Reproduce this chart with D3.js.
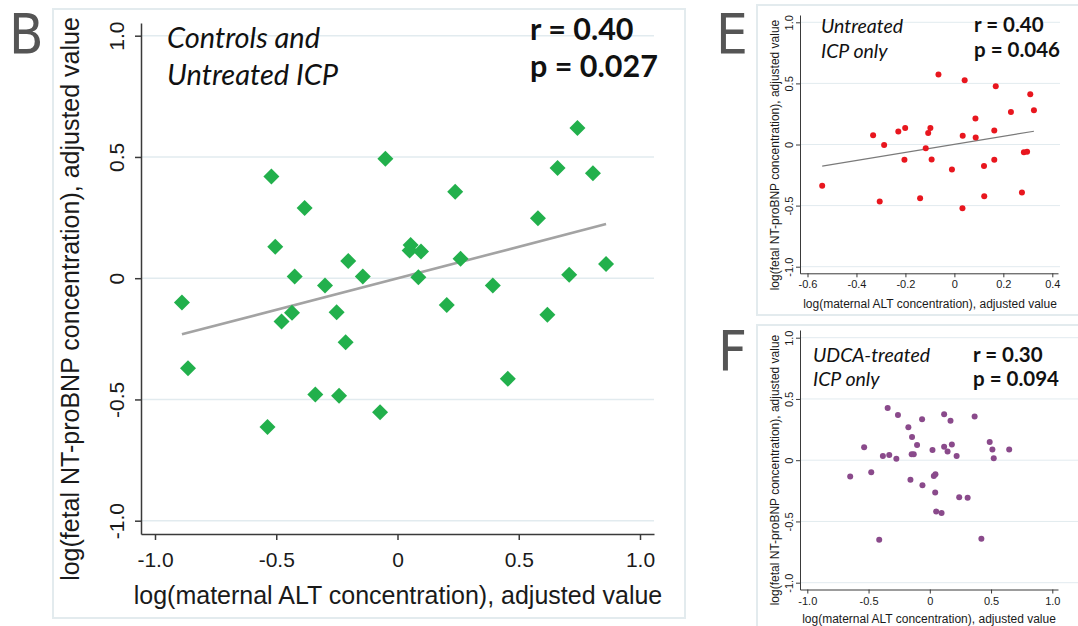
<!DOCTYPE html>
<html>
<head>
<meta charset="utf-8">
<script src="https://cdn.jsdelivr.net/npm/d3@7/dist/d3.min.js"></script>
<style>
  html, body { margin: 0; padding: 0; background: #ffffff; }
  svg { display: block; }
</style>
</head>
<body>
<svg id="fig" width="1078" height="626"></svg>
<script>
// ---- Panel B: controls and untreated ICP (log maternal ALT vs log fetal NT-proBNP)
const bAlt = [-0.889, -0.520, -0.383, -0.504, -0.424, -0.299, -0.203, -0.143, -0.050, 0.054,
               0.050,  0.097,  0.086,  0.238,  0.260,  0.393,  0.579,  0.660,  0.742, 0.806,
               0.708,  0.860,  0.203, -0.435, -0.478, -0.251, -0.214,  0.618, -0.864, 0.455,
              -0.339, -0.241, -0.072, -0.536];
const bBnp = [-0.100,  0.419,  0.289,  0.130,  0.007, -0.030,  0.071,  0.007,  0.493, 0.137,
               0.114,  0.110,  0.004,  0.357,  0.080, -0.030,  0.247,  0.454,  0.619, 0.433,
               0.014,  0.059, -0.111, -0.142, -0.179, -0.140, -0.264, -0.151, -0.371, -0.415,
              -0.480, -0.485, -0.553, -0.614];

// ---- Panel E: untreated ICP only
const eAlt = [-0.540, -0.332, -0.287, -0.305, -0.229, -0.201, -0.204, -0.140, -0.117, -0.107,
              -0.098, -0.093, -0.065, -0.010,  0.033,  0.034,  0.042,  0.086,  0.087,  0.121,
               0.122,  0.163,  0.163,  0.169,  0.231,  0.276,  0.284,  0.297,  0.310,  0.325];
const eBnp = [-0.338,  0.076, -0.005, -0.466,  0.106,  0.136, -0.125, -0.439, -0.030,  0.095,
               0.136, -0.123,  0.573, -0.205, -0.521,  0.071,  0.526,  0.213,  0.057, -0.175,
              -0.423,  0.115, -0.125,  0.477,  0.265, -0.393, -0.063, -0.060,  0.412,  0.281];

// ---- Panel F: UDCA-treated ICP only
const fAlt = [-0.650, -0.536, -0.478, -0.413, -0.383, -0.344, -0.331, -0.273, -0.260, -0.175,
              -0.158, -0.145, -0.148, -0.131, -0.104, -0.063, -0.060,  0.022,  0.033,  0.046,
               0.044,  0.052,  0.096,  0.117,  0.117,  0.145,  0.169,  0.180,  0.219,  0.240,
               0.309,  0.366,  0.421,  0.489,  0.511,  0.522,  0.648];
const fBnp = [-0.133,  0.106, -0.098, -0.649,  0.035,  0.427,  0.043,  0.011,  0.370,  0.269,
              -0.160,  0.190,  0.049,  0.049,  0.125,  0.334, -0.204,  0.084, -0.128, -0.114,
              -0.264, -0.418, -0.432,  0.375,  0.109,  0.071,  0.323,  0.128,  0.035, -0.302,
              -0.307,  0.356, -0.641,  0.149,  0.087,  0.016,  0.087];

// ---- Tick values
const bXTicks = [-1.0, -0.5, 0, 0.5, 1.0];
const bYTicks = [-1.0, -0.5, 0, 0.5, 1.0];
const eXTicks = [-0.6, -0.4, -0.2, 0, 0.2, 0.4];
const eYTicks = [-1.0, -0.5, 0, 0.5, 1.0];
const fXTicks = [-1.0, -0.5, 0, 0.5, 1.0];
const fYTicks = [-1.0, -0.5, 0, 0.5, 1.0];

// ---- Annotations
const xTitle = "log(maternal ALT concentration), adjusted value";
const yTitle = "log(fetal NT-proBNP concentration), adjusted value";
const bGroup = ["Controls and", "Untreated ICP"];
const bStats = ["r = 0.40", "p = 0.027"];
const eGroup = ["Untreated", "ICP only"];
const eStats = ["r = 0.40", "p = 0.046"];
const fGroup = ["UDCA-treated", "ICP only"];
const fStats = ["r = 0.30", "p = 0.094"];

const tickFmt = d => d === 0 ? "0" : d.toFixed(1);
const AXIS_FONT = "'Liberation Sans', Arial, sans-serif";
const NOTE_FONT = "Lato, 'Open Sans', sans-serif";
const LETTER_FONT = "'DejaVu Sans Condensed', 'Liberation Sans', sans-serif";

const svg = d3.select("#fig");

// ordinary least squares fit
function olsFit(xs, ys) {
  const mx = d3.mean(xs), my = d3.mean(ys);
  let sxy = 0, sxx = 0;
  xs.forEach((x, i) => { sxy += (x - mx) * (ys[i] - my); sxx += (x - mx) * (x - mx); });
  const slope = sxy / sxx;
  return { slope, intercept: my - slope * mx };
}

function drawPanel(p) {
  // light panel frame
  svg.append("rect")
    .attr("x", p.frame[0]).attr("y", p.frame[1])
    .attr("width", p.frame[2]).attr("height", p.frame[3])
    .attr("fill", "none").attr("stroke", "#e3ebee").attr("stroke-width", 2);

  // panel letter
  svg.append("text")
    .attr("x", p.letterPos[0]).attr("y", p.letterPos[1])
    .attr("font-family", LETTER_FONT).attr("font-size", 56)
    .attr("fill", "#555555").text(p.letter);

  // scales anchored at two tick positions, then widened to the plot box
  const x = d3.scaleLinear().domain(p.xAnchor).range(p.xAnchorPx);
  x.domain([x.invert(p.left), x.invert(p.right)]).range([p.left, p.right]);
  const y = d3.scaleLinear().domain(p.yAnchor).range(p.yAnchorPx);
  y.domain([y.invert(p.bottom), y.invert(p.top)]).range([p.bottom, p.top]);

  const g = svg.append("g");

  // horizontal gridlines
  g.append("g").selectAll("line").data(p.yTicks).join("line")
    .attr("x1", p.left).attr("x2", p.gridRight)
    .attr("y1", d => y(d)).attr("y2", d => y(d))
    .attr("stroke", "#e2ebef").attr("stroke-width", p.gridW);

  // x axis
  const xa = g.append("g").attr("transform", `translate(0,${p.bottom})`)
    .call(d3.axisBottom(x).tickValues(p.xTicks).tickFormat(tickFmt)
      .tickSize(p.tickLen).tickSizeOuter(0));
  xa.select(".domain").attr("stroke", "#3a3a3a").attr("stroke-width", p.axisW);
  xa.selectAll(".tick line").attr("stroke", "#3a3a3a").attr("stroke-width", p.axisW);
  xa.selectAll(".tick text")
    .attr("y", p.xLabOff).attr("dy", 0)
    .attr("font-family", AXIS_FONT).attr("font-size", p.tickFont).attr("fill", "#1a1a1a");

  // y axis with labels turned upright along the axis
  const ya = g.append("g").attr("transform", `translate(${p.left},0)`)
    .call(d3.axisLeft(y).tickValues(p.yTicks).tickFormat(tickFmt)
      .tickSize(p.tickLen).tickSizeOuter(0));
  ya.select(".domain").attr("stroke", "#3a3a3a").attr("stroke-width", p.axisW);
  ya.selectAll(".tick line").attr("stroke", "#3a3a3a").attr("stroke-width", p.axisW);
  ya.selectAll(".tick text")
    .attr("x", 0).attr("y", -p.yLabOff).attr("dy", 0)
    .attr("transform", "rotate(-90)")
    .attr("text-anchor", "middle")
    .attr("font-family", AXIS_FONT).attr("font-size", p.tickFont).attr("fill", "#1a1a1a");
  g.selectAll(".domain").attr("fill", "none");

  // axis titles
  svg.append("text")
    .attr("x", p.xTitlePos[0]).attr("y", p.xTitlePos[1])
    .attr("text-anchor", "middle")
    .attr("font-family", AXIS_FONT).attr("font-size", p.titleFont).attr("fill", "#1a1a1a")
    .text(xTitle);
  svg.append("text")
    .attr("transform", `translate(${p.yTitlePos[0]},${p.yTitlePos[1]}) rotate(-90)`)
    .attr("text-anchor", "middle")
    .attr("font-family", AXIS_FONT).attr("font-size", p.titleFont).attr("fill", "#1a1a1a")
    .text(yTitle);

  // fitted regression line
  if (p.fitLine) {
    const fit = olsFit(p.xs, p.ys);
    const xr = d3.extent(p.xs);
    g.append("line")
      .attr("x1", x(xr[0])).attr("y1", y(fit.intercept + fit.slope * xr[0]))
      .attr("x2", x(xr[1])).attr("y2", y(fit.intercept + fit.slope * xr[1]))
      .attr("stroke", p.fitColor).attr("stroke-width", p.fitW);
  }

  // points
  const pts = p.xs.map((v, i) => [v, p.ys[i]]);
  if (p.marker === "diamond") {
    const sym = d3.symbol(d3.symbolSquare, p.markerArea);
    g.append("g").selectAll("path").data(pts).join("path")
      .attr("d", sym)
      .attr("transform", d => `translate(${x(d[0])},${y(d[1])}) rotate(45)`)
      .attr("fill", p.color);
  } else {
    g.append("g").selectAll("circle").data(pts).join("circle")
      .attr("cx", d => x(d[0])).attr("cy", d => y(d[1])).attr("r", p.markerR)
      .attr("fill", p.color);
  }

  // group description (italic) and statistics (bold)
  p.group.forEach((t, i) => {
    svg.append("text")
      .attr("x", p.groupPos[0]).attr("y", p.groupPos[1] + i * p.lineGap)
      .attr("font-family", NOTE_FONT).attr("font-style", "italic")
      .attr("font-size", p.noteFont).attr("fill", "#111111").text(t);
  });
  p.stats.forEach((t, i) => {
    svg.append("text")
      .attr("x", p.statsPos[0]).attr("y", p.statsPos[1] + i * p.lineGap)
      .attr("font-family", NOTE_FONT).attr("font-weight", 700)
      .attr("font-size", p.statFont).attr("fill", "#111111").text(t);
  });
}

drawPanel({
  letter: "B", letterPos: [9, 53], frame: [53, 9, 632, 609],
  xs: bAlt, ys: bBnp, xTicks: bXTicks, yTicks: bYTicks,
  xAnchor: [-1, 1], xAnchorPx: [155, 640], yAnchor: [-1, 1], yAnchorPx: [520.7, 35.7],
  left: 141, right: 654, top: 23, bottom: 534, gridRight: 654,
  gridW: 1.6, axisW: 1.5, tickLen: 6, tickFont: 21, xLabOff: 33, yLabOff: 17,
  titleFont: 25, xTitlePos: [398, 604], yTitlePos: [79, 299],
  fitLine: true, fitColor: "#a3a3a3", fitW: 2.6,
  marker: "diamond", markerArea: 128, color: "#22b04c",
  group: bGroup, stats: bStats, groupPos: [167, 48], statsPos: [530, 40], lineGap: 37,
  noteFont: 29, statFont: 30.5
});

drawPanel({
  letter: "E", letterPos: [716, 53], frame: [757, 5, 325, 310],
  xs: eAlt, ys: eBnp, xTicks: eXTicks, yTicks: eYTicks,
  xAnchor: [-0.6, 0.4], xAnchorPx: [807.5, 1052.3], yAnchor: [-1, 1], yAnchorPx: [266.7, 22.3],
  left: 800, right: 1058, top: 15, bottom: 273.3, gridRight: 1060,
  gridW: 1, axisW: 1, tickLen: 4, tickFont: 11, xLabOff: 15, yLabOff: 7,
  titleFont: 12, xTitlePos: [930, 308], yTitlePos: [779, 155],
  fitLine: true, fitColor: "#7a7a7a", fitW: 1.1,
  marker: "circle", markerR: 3, color: "#e8161e",
  group: eGroup, stats: eStats, groupPos: [821, 33], statsPos: [974, 32], lineGap: 25,
  noteFont: 19.5, statFont: 20.5
});

drawPanel({
  letter: "F", letterPos: [718, 370], frame: [757, 325, 325, 310],
  xs: fAlt, ys: fBnp, xTicks: fXTicks, yTicks: fYTicks,
  xAnchor: [-1, 1], xAnchorPx: [807.3, 1052.3], yAnchor: [-1, 1], yAnchorPx: [582.7, 337.7],
  left: 800, right: 1058, top: 330, bottom: 589.5, gridRight: 1078,
  gridW: 1, axisW: 1, tickLen: 4, tickFont: 11, xLabOff: 15.5, yLabOff: 7,
  titleFont: 12, xTitlePos: [929, 623], yTitlePos: [779, 470],
  fitLine: false,
  marker: "circle", markerR: 3, color: "#8a4a8b",
  group: fGroup, stats: fStats, groupPos: [813, 362], statsPos: [973, 362], lineGap: 24,
  noteFont: 19.5, statFont: 20.5
});
</script>
</body>
</html>
